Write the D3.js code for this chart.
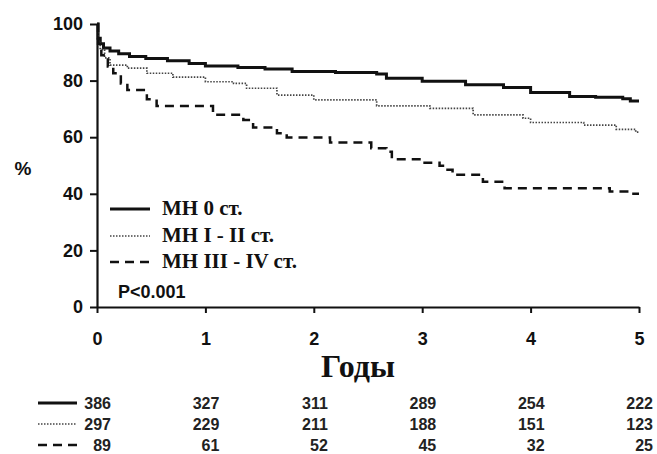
<!DOCTYPE html>
<html><head><meta charset="utf-8">
<script src="https://cdn.jsdelivr.net/npm/d3@7"></script>
<style>body{margin:0;background:#fff}svg{display:block}</style>
</head><body>
<script>
const xTicks = [0, 1, 2, 3, 4, 5];
const yTicks = [0, 20, 40, 60, 80, 100];
const seriesNames = ["МН 0 ст.", "МН I - II ст.", "МН III - IV ст."];
// Kaplan-Meier estimates (years, %)
const t0 = [0, 0.01, 0.03, 0.06, 0.12, 0.2, 0.3, 0.45, 0.65, 0.85, 1.0, 1.3, 1.55, 1.8, 2.2, 2.58, 2.67, 3.0, 3.4, 3.75, 4.0, 4.36, 4.6, 4.85, 4.92, 5.0];
const s0 = [100, 95, 93, 91.5, 90.5, 89.5, 88.5, 87.8, 87, 86, 85.2, 84.6, 84.1, 83.2, 82.9, 82.3, 80.8, 79.8, 78.5, 77.6, 75.8, 74.4, 74.1, 73.6, 72.8, 72.8];
const t1 = [0, 0.01, 0.03, 0.07, 0.12, 0.28, 0.46, 0.7, 1.0, 1.26, 1.38, 1.66, 2.0, 2.58, 3.07, 3.47, 3.93, 4.0, 4.49, 4.79, 4.97, 5.0];
const s1 = [100, 94, 91, 88, 85.5, 84.4, 82.6, 81.2, 79.6, 79, 77.3, 74.9, 73.2, 71.1, 70.2, 67.9, 66.7, 65.2, 64.3, 62.8, 61.8, 61.8];
const t2 = [0, 0.01, 0.04, 0.1, 0.15, 0.22, 0.28, 0.46, 0.55, 1.07, 1.35, 1.44, 1.66, 1.75, 2.15, 2.53, 2.67, 2.72, 3.0, 3.16, 3.22, 3.28, 3.56, 3.76, 4.73, 4.92, 5.0];
const s2 = [100, 93, 89, 85, 82.6, 79, 76.7, 73.4, 71, 67.9, 66.1, 63.4, 61.4, 59.9, 58.1, 56.1, 54.9, 52.2, 51.0, 49.9, 48.5, 46.7, 44.3, 42.0, 40.8, 40.0, 40.0];
const atRisk0 = [386, 327, 311, 289, 254, 222];
const atRisk1 = [297, 229, 211, 188, 151, 123];
const atRisk2 = [89, 61, 52, 45, 32, 25];
const pText = "P<0.001";

const W = 657, H = 454;
const svg = d3.select("body").append("svg").attr("width", W).attr("height", H);
const x = d3.scaleLinear().domain([0, 5]).range([97, 639]);
const y = d3.scaleLinear().domain([0, 100]).range([307, 24]);

const styles = [
  {stroke: "#111", width: 3, dash: null},
  {stroke: "#444", width: 1.7, dash: "1.5,1.5"},
  {stroke: "#111", width: 2.5, dash: "9,6"}
];
const series = [[t0, s0], [t1, s1], [t2, s2]];
const line = d3.line().curve(d3.curveStepAfter).x(d => x(d[0])).y(d => y(d[1]));
series.forEach((s, i) => {
  const pts = s[0].map((t, k) => [t, s[1][k]]);
  svg.append("path").attr("d", line(pts)).attr("fill", "none")
    .attr("stroke", styles[i].stroke).attr("stroke-width", styles[i].width)
    .attr("stroke-dasharray", styles[i].dash);
});

const fontSans = "Arial, 'Liberation Sans', sans-serif";
const fontSerif = "'Times New Roman', 'Liberation Serif', serif";

const yAxis = svg.append("g").attr("transform", "translate(97,0)")
  .call(d3.axisLeft(y).tickValues(yTicks).tickFormat(d3.format("d")).tickSize(7).tickPadding(7).tickSizeOuter(0));
const xAxis = svg.append("g").attr("transform", "translate(0,307)")
  .call(d3.axisBottom(x).tickValues(xTicks).tickFormat(d3.format("d")).tickSize(6).tickPadding(19).tickSizeOuter(0));
[yAxis, xAxis].forEach(g => {
  g.select(".domain").attr("stroke", "#111").attr("stroke-width", 2.2);
  g.selectAll(".tick line").attr("stroke", "#111").attr("stroke-width", 2);
  g.selectAll(".tick text").attr("font-family", fontSans).attr("font-weight", "bold")
    .attr("font-size", 18).attr("fill", "#111");
});

svg.append("text").attr("x", 23).attr("y", 175).attr("text-anchor", "middle")
  .attr("font-family", fontSans).attr("font-weight", "bold").attr("font-size", 19).attr("fill", "#111").text("%");

svg.append("text").attr("x", 358).attr("y", 377).attr("text-anchor", "middle")
  .attr("font-family", fontSerif).attr("font-weight", "bold").attr("font-size", 32).attr("fill", "#111").text("Годы");

// legend
const legY = [209, 236, 262];
seriesNames.forEach((n, i) => {
  svg.append("line").attr("x1", 110).attr("x2", 150).attr("y1", legY[i]).attr("y2", legY[i])
    .attr("stroke", styles[i].stroke).attr("stroke-width", styles[i].width).attr("stroke-dasharray", styles[i].dash);
  svg.append("text").attr("x", 162).attr("y", legY[i] + 6).attr("font-family", fontSerif)
    .attr("font-weight", "bold").attr("font-size", 21).attr("fill", "#111").text(n);
});
svg.append("text").attr("x", 118).attr("y", 298).attr("font-family", fontSans).attr("font-weight", "bold")
  .attr("font-size", 18).attr("fill", "#111").text(pText);

// at-risk table
const rows = [atRisk0, atRisk1, atRisk2];
const rowY = [409, 430, 451];
rows.forEach((r, i) => {
  const ly = rowY[i] - 6;
  svg.append("line").attr("x1", 38).attr("x2", 77).attr("y1", ly).attr("y2", ly)
    .attr("stroke", styles[i].stroke).attr("stroke-width", styles[i].width).attr("stroke-dasharray", styles[i].dash);
  r.forEach((v, k) => {
    svg.append("text").attr("x", x(xTicks[k]) + 14).attr("y", rowY[i]).attr("text-anchor", "end")
      .attr("font-family", fontSans).attr("font-weight", "bold").attr("font-size", 16).attr("fill", "#222").text(v);
  });
});
</script>
</body></html>
